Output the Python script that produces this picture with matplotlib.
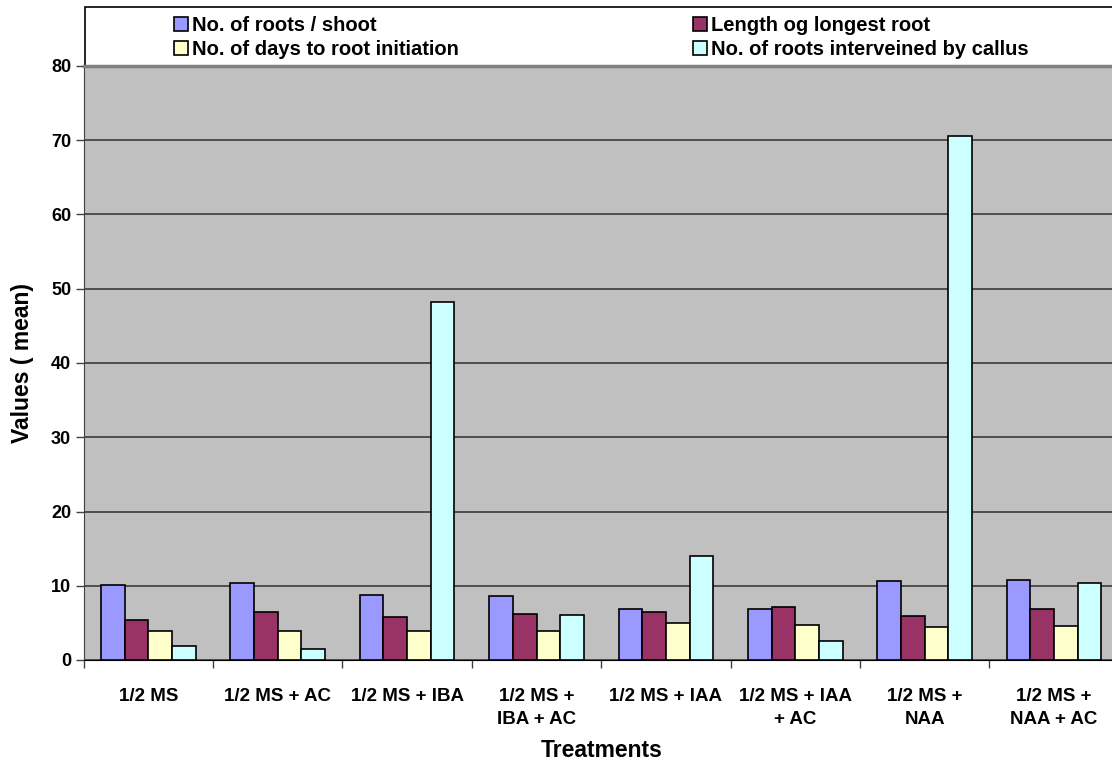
import matplotlib
matplotlib.use("Agg")
import matplotlib.pyplot as plt
from matplotlib.patches import Patch, Rectangle
import numpy as np

plt.rcParams["font.family"] = ["Liberation Sans", "DejaVu Sans"]
plt.rcParams["font.weight"] = "bold"

treatments = ["1/2 MS", "1/2 MS + AC", "1/2 MS + IBA", "1/2 MS +\nIBA + AC",
              "1/2 MS + IAA", "1/2 MS + IAA\n+ AC", "1/2 MS +\nNAA", "1/2 MS +\nNAA + AC"]
series_names = ["No. of roots / shoot", "Length og longest root",
                "No. of days to root initiation", "No. of roots interveined by callus"]
roots_per_shoot = [10.05, 10.4, 8.75, 8.6, 6.9, 6.9, 10.6, 10.8]
longest_root = [5.35, 6.4, 5.8, 6.15, 6.45, 7.1, 5.95, 6.9]
days_to_root = [3.95, 3.95, 3.85, 3.95, 4.95, 4.75, 4.45, 4.6]
callus_roots = [1.9, 1.5, 48.2, 6.05, 14.0, 2.5, 70.6, 10.4]
colors = ["#9999FF", "#993366", "#FFFFCC", "#CCFFFF"]

values = [roots_per_shoot, longest_root, days_to_root, callus_roots]

fig = plt.figure(figsize=(11.12, 7.65), dpi=100)
# plot area runs past the right edge, like the cropped original
ax = fig.add_axes([83.7 / 1112, 105 / 765, 1035 / 1112, 594 / 765])
ax.set_facecolor("#C0C0C0")

x = np.arange(len(treatments)) + 0.5
w = 0.183
for i, (vals, c) in enumerate(zip(values, colors)):
    ax.bar(x + (i - 1.5) * w, vals, w, color=c, edgecolor="black",
           linewidth=1.2, zorder=3)

ax.set_xlim(0, len(treatments))
ax.set_ylim(0, 80)
ax.set_yticks(range(0, 81, 10))
ax.yaxis.grid(True, color="#303030", linewidth=1.1, zorder=1)
ax.set_xticks(x)
ax.set_xticklabels(treatments, fontsize=13.5, fontweight="bold", linespacing=1.5)
ax.set_xticks(np.arange(len(treatments) + 1), minor=True)
ax.tick_params(axis="x", which="major", length=0, pad=20)
ax.tick_params(axis="x", which="minor", length=6, width=1, color="#404040")
ax.tick_params(axis="y", length=6, width=1, color="#404040", labelsize=13, pad=3)
for lab in ax.get_yticklabels():
    lab.set_fontweight("bold")

ax.spines["top"].set_color("#808080")
ax.spines["top"].set_linewidth(2.5)
ax.spines["top"].set_zorder(5)
ax.spines["left"].set_color("#404040")
ax.spines["bottom"].set_color("black")
ax.spines["right"].set_visible(False)

ax.set_xlabel("Treatments", fontsize=16.5, fontweight="bold", labelpad=8)
ax.set_ylabel("Values ( mean)", fontsize=16.5, fontweight="bold", labelpad=12)

# legend box above the plot
fig.patches.append(Rectangle((85 / 1112, 1 - 66 / 765), 1.0, 59 / 765,
                             transform=fig.transFigure, facecolor="white",
                             edgecolor="black", linewidth=1.2, zorder=-1))
handles = [Patch(facecolor=c, edgecolor="black", linewidth=1.2) for c in colors]
leg_kw = dict(frameon=False, handlelength=0.7, handleheight=0.7,
              handletextpad=0.2, labelspacing=0.25, borderaxespad=0,
              borderpad=0, prop={"weight": "bold", "size": 14.5})
leg1 = fig.legend([handles[0], handles[2]], [series_names[0], series_names[2]],
                  loc="upper left", bbox_to_anchor=(174 / 1112, 1 - 16 / 765), **leg_kw)
leg2 = fig.legend([handles[1], handles[3]], [series_names[1], series_names[3]],
                  loc="upper left", bbox_to_anchor=(693 / 1112, 1 - 16 / 765), **leg_kw)

fig.savefig("out.png", dpi=100)
